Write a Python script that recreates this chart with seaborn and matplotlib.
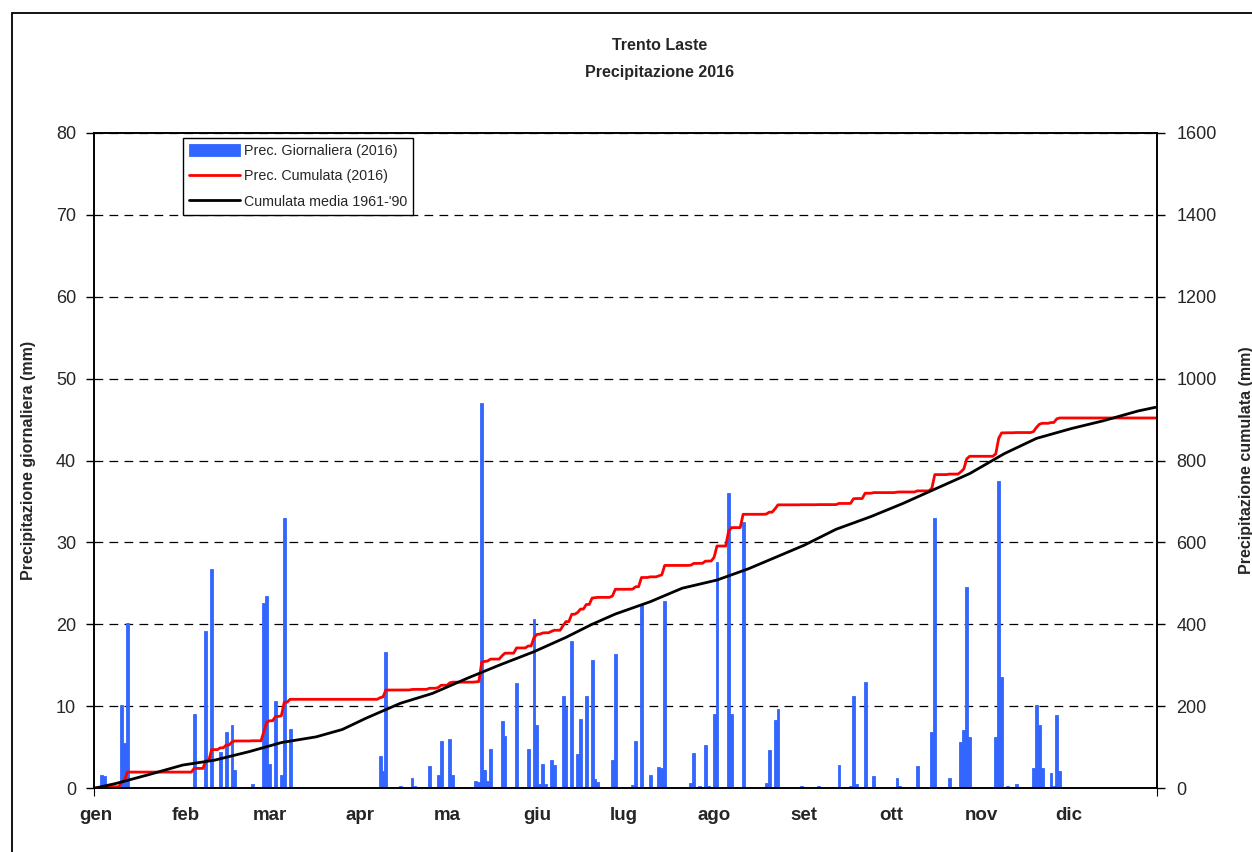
import numpy as np
import pandas as pd
import seaborn as sns
import matplotlib.pyplot as plt
from matplotlib.patches import Rectangle

# Daily precipitation 2016 (only rainy days listed, day of year)
rain_days = [3, 4, 10, 11, 12, 35, 39, 41, 44, 46, 48, 49, 55, 59, 60, 61, 63, 65, 66, 68,
             99, 100, 101, 106, 110, 111, 116, 119, 120, 123, 124,
             132, 133, 134, 135, 136, 137, 141, 142, 146,
             150, 152, 153, 154, 155, 156, 158, 159, 162, 163, 165, 167, 168, 170, 172, 173, 174,
             179, 180, 186, 187, 189, 192, 195, 196, 197,
             206, 207, 209, 211, 212, 214, 215, 219, 220, 224,
             232, 233, 235, 236,
             244, 250, 257, 261, 262, 263, 266, 269,
             277, 278, 284, 289, 290,
             295, 299, 300, 301, 302,
             311, 312, 313, 315, 318,
             324, 325, 326, 327, 330, 331, 332, 333]
rain_mm = [1.6, 1.5, 10.2, 5.5, 20.1, 9.0, 19.2, 26.7, 4.4, 6.8, 7.7, 2.2, 0.5, 22.6, 23.4, 2.9, 10.6, 1.6, 33.0, 7.2,
           3.9, 2.1, 16.6, 0.2, 1.2, 0.3, 2.7, 1.6, 5.7, 6.0, 1.6,
           0.8, 0.7, 47.0, 2.2, 0.8, 4.8, 8.2, 6.3, 12.8,
           4.8, 20.6, 7.7, 0.5, 2.9, 0.5, 3.4, 2.8, 11.2, 9.9, 18.0, 4.2, 8.4, 11.2, 15.6, 1.1, 0.7,
           3.4, 16.4, 0.4, 5.8, 22.5, 1.6, 2.6, 2.4, 22.9,
           0.6, 4.3, 0.3, 5.2, 0.3, 9.1, 27.6, 36.0, 9.0, 32.5,
           0.6, 4.6, 8.3, 9.6,
           0.3, 0.3, 2.8, 0.3, 11.2, 0.5, 13.0, 1.5,
           1.2, 0.3, 2.7, 6.8, 33.0,
           1.2, 5.6, 7.1, 24.6, 6.2,
           6.2, 37.5, 13.5, 0.3, 0.5,
           2.4, 10.1, 7.7, 2.4, 1.8, 0.2, 8.9, 2.1]

# Mean cumulated precipitation 1961-'90
mean_days = [1, 8, 19, 31, 42, 54, 65, 77, 86, 94, 106, 117, 129, 140, 152, 163, 172, 180,
             192, 203, 215, 226, 233, 245, 256, 268, 279, 290, 302, 314, 325, 337, 348, 360, 366]
mean_cum = [0, 11, 32, 56, 68, 89, 111, 125, 143, 170, 207, 231, 268, 300, 333, 368, 400, 425,
            455, 488, 508, 536, 557, 593, 632, 663, 695, 730, 768, 817, 854, 878, 897, 921, 930]

months = ["gen", "feb", "mar", "apr", "ma", "giu", "lug", "ago", "set", "ott", "nov", "dic"]
month_start = [1, 32, 61, 92, 122, 153, 183, 214, 245, 275, 306, 336]

df = pd.DataFrame({"day": np.arange(1, 367)})
df["daily"] = df["day"].map(pd.Series(rain_mm, index=rain_days)).fillna(0)
df["cum"] = df["daily"].cumsum()

sns.set_style("ticks")
plt.rcParams['font.family'] = ['Liberation Sans', 'DejaVu Sans']
plt.rcParams['axes.edgecolor'] = 'black'

fig = plt.figure(figsize=(12.52, 8.52), dpi=100)
ax = fig.add_axes([0.0751, 0.0751, 0.849, 0.7688])

sns.barplot(data=df, x="day", y="daily", native_scale=True, color="#3366FF", saturation=1,
            width=1.0, linewidth=0.6, edgecolor="#3366FF", errorbar=None, ax=ax,
            label="Prec. Giornaliera (2016)")
ax.set_axisbelow(True)
ax.yaxis.grid(True, color="black", linestyle=(0, (7, 5)), lw=0.9)

ax2 = ax.twinx()
sns.lineplot(data=df, x="day", y="cum", color="red", lw=2, ax=ax2, label="Prec. Cumulata (2016)")
sns.lineplot(x=mean_days, y=mean_cum, color="black", lw=2, ax=ax2, label="Cumulata media 1961-'90")

ax.set_xlim(0.5, 366.5)
ax.set_ylim(0, 80)
ax2.set_ylim(0, 1600)
ax.set_yticks(range(0, 81, 10))
ax2.set_yticks(range(0, 1601, 200))
ax.set_xticks([0.5, 366.5])
ax.set_xticklabels(["", ""])
ax.set_xticks(month_start, minor=True)
ax.set_xticklabels(months, minor=True, fontweight="bold", fontsize=13.5)
ax.tick_params(axis="x", which="minor", length=0, pad=14)
ax.tick_params(axis="x", which="major", length=6, color="black")
ax.tick_params(axis="y", length=6, width=1, color="black", labelsize=13, pad=7)
ax2.tick_params(axis="y", length=6, width=1, color="black", labelsize=13, pad=8)

for a in (ax, ax2):
    for s in a.spines.values():
        s.set_color("black")
        s.set_linewidth(1.2)

ax.set_xlabel("")
ax.set_ylabel("Precipitazione giornaliera (mm)", fontweight="bold", fontsize=11.5, labelpad=14)
ax2.set_ylabel("Precipitazione cumulata (mm)", fontweight="bold", fontsize=11.5, labelpad=16)

h1, l1 = ax.get_legend_handles_labels()
h2, l2 = ax2.get_legend_handles_labels()
if ax.get_legend() is not None:
    ax.get_legend().remove()
ax2.legend(h1 + h2, l1 + l2, loc="upper left", bbox_to_anchor=(0.0837, 0.992),
           frameon=True, fancybox=False, edgecolor="black", framealpha=1, fontsize=10.3,
           handlelength=3.6, handleheight=0.9, borderaxespad=0, borderpad=0.4, labelspacing=0.8,
           handletextpad=0.25)

fig.text(0.527, 1 - 45 / 852, "Trento Laste", ha="center", va="center", fontweight="bold", fontsize=11.5)
fig.text(0.527, 1 - 72 / 852, "Precipitazione 2016", ha="center", va="center", fontweight="bold", fontsize=11.5)

fig.add_artist(Rectangle((12 / 1252, -0.05), 1.1, 1 - 13 / 852 + 0.05, transform=fig.transFigure,
                         fill=False, ec="black", lw=1.3))

fig.savefig("out.png", dpi=100)
